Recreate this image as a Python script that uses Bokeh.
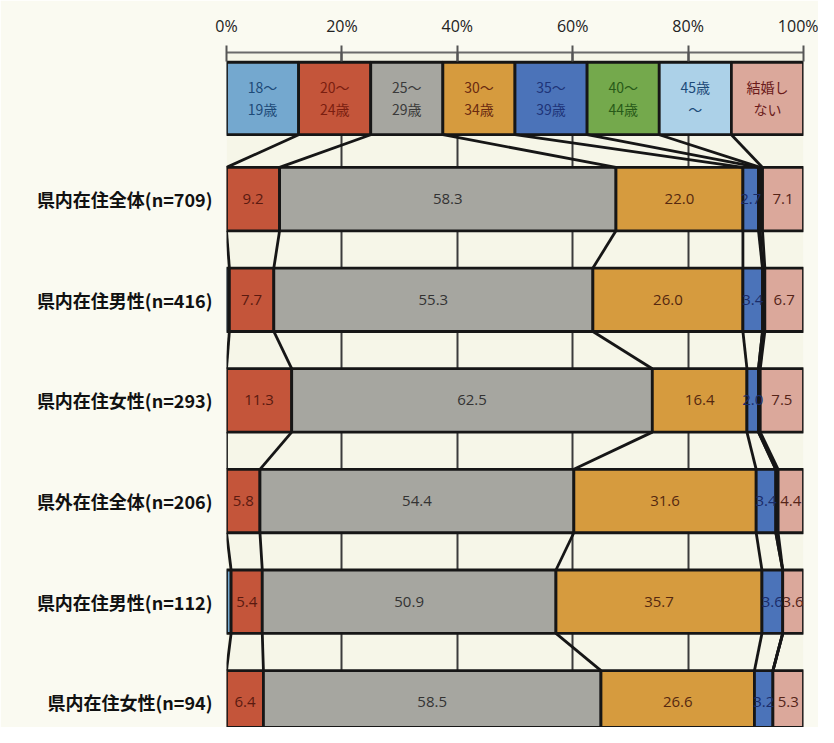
from bokeh.plotting import figure
from bokeh.models import Range1d, FixedTicker, ColumnDataSource
from bokeh.embed import file_html
from bokeh.resources import INLINE
from bokeh.core.properties import value

# ---------------- data ----------------
rows = ["県内在住全体(n=709)", "県内在住男性(n=416)", "県内在住女性(n=293)",
        "県外在住全体(n=206)", "県内在住男性(n=112)", "県内在住女性(n=94)"]
series_line1 = ["18～", "20～", "25～", "30～", "35～", "40～", "45歳", "結婚し"]
series_line2 = ["19歳", "24歳", "29歳", "34歳", "39歳", "44歳", "～", "ない"]
legend_share = [12.5, 12.5, 12.5, 12.5, 12.5, 12.5, 12.5, 12.5]

v18_19 = [0.0, 0.5, 0.0, 0.0, 0.8, 0.0]
v20_24 = [9.2, 7.7, 11.3, 5.8, 5.4, 6.4]
v25_29 = [58.3, 55.3, 62.5, 54.4, 50.9, 58.5]
v30_34 = [22.0, 26.0, 16.4, 31.6, 35.7, 26.6]
v35_39 = [2.7, 3.4, 2.0, 3.4, 3.6, 3.2]
v40_44 = [0.3, 0.0, 0.0, 0.0, 0.0, 0.0]
v45_up = [0.4, 0.4, 0.3, 0.4, 0.0, 0.0]
v_none = [7.1, 6.7, 7.5, 4.4, 3.6, 5.3]

x_ticks = [0, 20, 40, 60, 80, 100]

# ---------------- styles ----------------
fills = ["#74a8cf", "#c4553a", "#a6a6a0", "#d69b3e", "#4b73b9", "#74a94c", "#acd1e8", "#dba89b"]
legend_text_colors = ["#1d4a78", "#7a1e10", "#3a3a3a", "#6a2a10", "#1e3478", "#285a18", "#1d4a78", "#6a1a1a"]
value_text_colors = ["#1d4a78", "#5a1a10", "#333333", "#552810", "#1a2c6a", "#285a18", "#1d4a78", "#552418"]

series = [v18_19, v20_24, v25_29, v30_34, v35_39, v40_44, v45_up, v_none]
n_rows = len(rows)
row_y = list(range(1, n_rows + 1))
legend_y = 0
row_h = 0.63
legend_h = 0.72

p = figure(width=818, height=727, output_backend="svg", toolbar_location=None,
           x_range=Range1d(0, 100), y_range=Range1d(6.25, -0.457),
           x_axis_location="above", min_border_left=226, min_border_right=15,
           min_border_top=52, min_border_bottom=0)
p.background_fill_color = "#f6f6e8"
p.border_fill_color = "#fafaf1"
p.outline_line_color = None

# grid
p.xgrid.ticker = FixedTicker(ticks=x_ticks)
p.xgrid.grid_line_color = "#3c3c3c"
p.xgrid.grid_line_width = 2
p.ygrid.grid_line_color = None

# top axis
p.xaxis.ticker = FixedTicker(ticks=x_ticks)
p.xaxis.major_label_overrides = {t: f"{t}%" for t in x_ticks}
p.xaxis.axis_line_color = "#6a6a6a"
p.xaxis.axis_line_width = 2
p.xaxis.major_tick_line_color = "#555555"
p.xaxis.major_tick_line_width = 2
p.xaxis.major_tick_in = 9
p.xaxis.major_tick_out = 7
p.xaxis.minor_tick_line_color = None
p.xaxis.major_label_standoff = 9
p.xaxis.major_label_text_font = "Open Sans"
p.xaxis.major_label_text_font_style = "normal"
p.xaxis.major_label_text_font_size = "16px"
p.xaxis.major_label_text_color = "#222222"

# left axis with row labels
p.yaxis.ticker = FixedTicker(ticks=row_y)
p.yaxis.major_label_overrides = {y: r for y, r in zip(row_y, rows)}
p.yaxis.axis_line_color = None
p.yaxis.major_tick_line_color = None
p.yaxis.minor_tick_line_color = None
p.yaxis.major_label_standoff = 8
p.yaxis.major_label_text_font = "Noto Sans CJK JP"
p.yaxis.major_label_text_font_style = "bold"
p.yaxis.major_label_text_font_size = "18px"
p.yaxis.major_label_text_color = "#111111"

# ---------------- bars ----------------
left, right, ys, hs, colors = [], [], [], [], []
lab_x, lab_y, lab_t, lab_c = [], [], [], []

cum = 0.0
for k, s in enumerate(legend_share):
    left.append(cum); right.append(cum + s); ys.append(legend_y); hs.append(legend_h); colors.append(fills[k])
    cum += s

for i in range(n_rows):
    cum = 0.0
    for k, ser in enumerate(series):
        v = ser[i]
        if v > 0:
            left.append(cum); right.append(cum + v); ys.append(row_y[i]); hs.append(row_h); colors.append(fills[k])
            if v >= 1:
                lab_x.append(cum + v / 2); lab_y.append(row_y[i]); lab_t.append(f"{v:.1f}"); lab_c.append(value_text_colors[k])
        cum += v

bars = ColumnDataSource(dict(left=left, right=right, y=ys, h=hs, c=colors))
p.hbar(y="y", left="left", right="right", height="h", fill_color="c",
       line_color="#161616", line_width=2.8, source=bars)

# ---------------- series lines ----------------
all_rows = [legend_share] + [[ser[i] for ser in series] for i in range(n_rows)]
all_y = [legend_y] + row_y
all_h = [legend_h] + [row_h] * n_rows
x0, y0, x1, y1 = [], [], [], []
for j in range(len(all_rows) - 1):
    a, b = all_rows[j], all_rows[j + 1]
    ca, cb = 0.0, 0.0
    for k in range(len(series) - 1):
        ca += a[k]; cb += b[k]
        x0.append(ca); y0.append(all_y[j] + all_h[j] / 2)
        x1.append(cb); y1.append(all_y[j + 1] - all_h[j + 1] / 2)
p.segment(x0=x0, y0=y0, x1=x1, y1=y1, line_color="#161616", line_width=2.8)

# ---------------- texts ----------------
lcx, lcy, lc = [], [], []
cum = 0.0
for k, s in enumerate(legend_share):
    lcx.append(cum + s / 2); lcy.append(legend_y); lc.append(legend_text_colors[k])
    cum += s
p.text(x=lcx, y=lcy, text=series_line1, text_color=lc, text_align="center",
       text_baseline="middle", y_offset=-11, text_font=value("Noto Sans CJK JP"),
       text_font_size="14px")
p.text(x=lcx, y=lcy, text=series_line2, text_color=lc, text_align="center",
       text_baseline="middle", y_offset=11, text_font=value("Noto Sans CJK JP"),
       text_font_size="14px")

p.text(x=lab_x, y=lab_y, text=lab_t, text_color=lab_c, text_align="center",
       text_baseline="middle", text_font=value("Open Sans"), text_font_style="normal",
       text_font_size="15px")

open("out.html", "w").write(file_html(p, INLINE))
